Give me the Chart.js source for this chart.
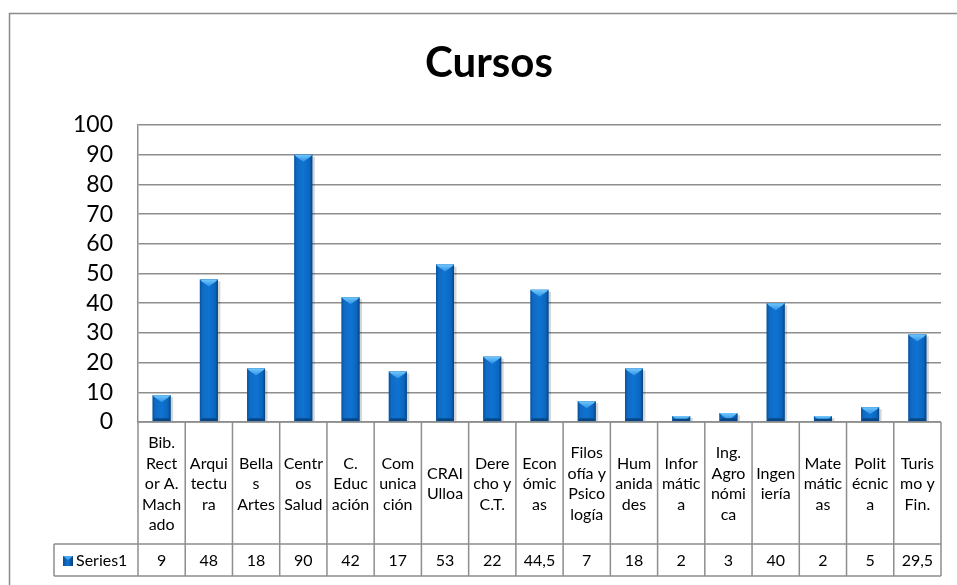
<!DOCTYPE html>
<html>
<head>
<meta charset="utf-8">
<title>Cursos</title>
<script src="https://cdn.jsdelivr.net/npm/chart.js@4.4.1/dist/chart.umd.min.js"></script>
<style>
  html, body { margin: 0; padding: 0; background: #ffffff; }
  #wrap { width: 957px; height: 585px; position: relative; }
</style>
</head>
<body>
<div id="wrap"><canvas id="cursosChart" width="957" height="585"></canvas></div>
<script>
// Category labels, already wrapped the way the data table shows them.
const categoryLines = [
  ["Bib.", "Rect", "or A.", "Mach", "ado"],
  ["Arqui", "tectu", "ra"],
  ["Bella", "s", "Artes"],
  ["Centr", "os", "Salud"],
  ["C.", "Educ", "ación"],
  ["Com", "unica", "ción"],
  ["CRAI", "Ulloa"],
  ["Dere", "cho y", "C.T."],
  ["Econ", "ómic", "as"],
  ["Filos", "ofía y", "Psico", "logía"],
  ["Hum", "anida", "des"],
  ["Infor", "mátic", "a"],
  ["Ing.", "Agro", "nómi", "ca"],
  ["Ingen", "iería"],
  ["Mate", "mátic", "as"],
  ["Polit", "écnic", "a"],
  ["Turis", "mo y", "Fin."]
];

const seriesName = "Series1";
const seriesValues = [9, 48, 18, 90, 42, 17, 53, 22, 44.5, 7, 18, 2, 3, 40, 2, 5, 29.5];

const yTickMin = 0;
const yTickMax = 100;
const yTickStep = 10;

const chartTitle = "Cursos";

// Look & feel
const FONT = "Lato, 'Open Sans', 'DejaVu Sans', sans-serif";
const GRID_COLOR = "#8e8e8e";
const LABEL_ROW_HEIGHT = 122;
const VALUE_ROW_HEIGHT = 32;
const LEGEND_CELL_LEFT = 54;

// Helper: Excel-style decimal comma.
function formatValue(v) {
  return String(v).replace(".", ",");
}

// Outer frame of the chart object (only the left and top edges are visible).
const framePlugin = {
  id: "frame",
  beforeDraw(chart) {
    const ctx = chart.ctx;
    ctx.save();
    ctx.fillStyle = "#ffffff";
    ctx.fillRect(0, 0, chart.width, chart.height);
    ctx.strokeStyle = "#8a8a8a";
    ctx.lineWidth = 1.5;
    ctx.strokeRect(9.5, 13.5, 1200, 1200);
    ctx.restore();
  }
};

// Gives the flat bars the bevelled Excel look.
const bevelPlugin = {
  id: "bevel",
  afterDatasetsDraw(chart) {
    const ctx = chart.ctx;
    const meta = chart.getDatasetMeta(0);
    meta.data.forEach((bar) => {
      const { x, y, base, width } = bar.getProps(["x", "y", "base", "width"], true);
      const left = x - width / 2;
      const right = x + width / 2;
      const h = base - y;
      if (h <= 0) return;
      ctx.save();

      // soft shadow on the right
      ctx.fillStyle = "rgba(0,0,0,0.16)";
      ctx.fillRect(right, y + 2, 2.5, h - 2);

      // body
      const g = ctx.createLinearGradient(left, 0, right, 0);
      g.addColorStop(0, "#0a519c");
      g.addColorStop(0.15, "#106bc4");
      g.addColorStop(0.5, "#0f73d2");
      g.addColorStop(0.85, "#0b66bd");
      g.addColorStop(1, "#07417f");
      ctx.fillStyle = g;
      ctx.fillRect(left, y, width, h);

      // top bevel (light triangle)
      const t = Math.min(7, h);
      const tg = ctx.createLinearGradient(0, y, 0, y + t);
      tg.addColorStop(0, "#72c8fb");
      tg.addColorStop(1, "#2d90e6");
      ctx.fillStyle = tg;
      ctx.beginPath();
      ctx.moveTo(left, y);
      ctx.lineTo(right, y);
      ctx.lineTo(right - 2, y + 2);
      ctx.lineTo(x, y + t);
      ctx.lineTo(left + 2, y + 2);
      ctx.closePath();
      ctx.fill();

      // bottom bevel (dark band)
      const b = Math.min(3, h / 2);
      ctx.fillStyle = "#094784";
      ctx.beginPath();
      ctx.moveTo(left, base);
      ctx.lineTo(right, base);
      ctx.lineTo(right - 2, base - b);
      ctx.lineTo(left + 2, base - b);
      ctx.closePath();
      ctx.fill();

      ctx.restore();
    });
  }
};

// Data table under the plot: category names, legend key and values.
const dataTablePlugin = {
  id: "dataTable",
  afterDraw(chart) {
    const ctx = chart.ctx;
    const area = chart.chartArea;
    const xScale = chart.scales.x;
    const step = xScale.getPixelForValue(1) - xScale.getPixelForValue(0);
    const top = area.bottom;
    const mid = top + LABEL_ROW_HEIGHT;
    const bottom = mid + VALUE_ROW_HEIGHT;

    ctx.save();
    ctx.strokeStyle = GRID_COLOR;
    ctx.lineWidth = 1.5;

    // horizontal rules
    ctx.beginPath();
    ctx.moveTo(area.left, top);
    ctx.lineTo(area.right, top);
    ctx.moveTo(LEGEND_CELL_LEFT, mid);
    ctx.lineTo(area.right, mid);
    ctx.moveTo(LEGEND_CELL_LEFT, bottom);
    ctx.lineTo(area.right, bottom);
    // legend cell left edge
    ctx.moveTo(LEGEND_CELL_LEFT, mid);
    ctx.lineTo(LEGEND_CELL_LEFT, bottom);
    // column separators
    for (let i = 0; i <= categoryLines.length; i++) {
      const xs = xScale.getPixelForValue(i) - step / 2;
      ctx.moveTo(xs, top);
      ctx.lineTo(xs, bottom);
    }
    ctx.stroke();

    ctx.fillStyle = "#000000";
    ctx.textAlign = "center";
    ctx.textBaseline = "middle";
    ctx.font = "16px " + FONT;

    // category names, vertically centred in their cells
    const lineH = 20.5;
    const labelMid = top + LABEL_ROW_HEIGHT / 2 + 1;
    categoryLines.forEach((lines, i) => {
      const cx = xScale.getPixelForValue(i);
      const startY = labelMid - ((lines.length - 1) * lineH) / 2;
      lines.forEach((line, k) => {
        ctx.fillText(line, cx, startY + k * lineH);
      });
    });

    // values row
    const valueY = mid + VALUE_ROW_HEIGHT / 2 + 1;
    seriesValues.forEach((v, i) => {
      ctx.fillText(formatValue(v), xScale.getPixelForValue(i), valueY);
    });

    // legend key + series name
    const kg = ctx.createLinearGradient(63, 0, 73, 0);
    kg.addColorStop(0, "#0a4f98");
    kg.addColorStop(0.5, "#1274d0");
    kg.addColorStop(1, "#073f7c");
    ctx.fillStyle = kg;
    ctx.fillRect(63, valueY - 5, 10, 10);
    ctx.fillStyle = "#4aa8f0";
    ctx.beginPath();
    ctx.moveTo(63, valueY - 5);
    ctx.lineTo(73, valueY - 5);
    ctx.lineTo(68, valueY - 1);
    ctx.closePath();
    ctx.fill();

    ctx.fillStyle = "#000000";
    ctx.textAlign = "left";
    ctx.fillText(seriesName, 76, valueY);

    ctx.restore();
  }
};

const ctx = document.getElementById("cursosChart");

new Chart(ctx, {
  type: "bar",
  data: {
    labels: categoryLines,
    datasets: [
      {
        label: seriesName,
        data: seriesValues,
        backgroundColor: "#0e6ac4",
        borderWidth: 0,
        categoryPercentage: 1,
        barPercentage: 0.38
      }
    ]
  },
  options: {
    responsive: false,
    animation: false,
    devicePixelRatio: 1,
    layout: {
      padding: { left: 37, right: 16, top: 0, bottom: 163 }
    },
    plugins: {
      legend: { display: false },
      tooltip: { enabled: false },
      title: {
        display: true,
        text: chartTitle,
        color: "#000000",
        font: { family: FONT, size: 42, weight: "bold", lineHeight: 1.2 },
        padding: { top: 38, bottom: 36.6 }
      }
    },
    scales: {
      x: {
        display: false
      },
      y: {
        min: yTickMin,
        max: yTickMax,
        afterFit(scale) {
          scale.width = 101;
        },
        ticks: {
          stepSize: yTickStep,
          autoSkip: false,
          color: "#000000",
          padding: 25,
          font: { family: FONT, size: 23 }
        },
        grid: {
          color: GRID_COLOR,
          lineWidth: 1.5,
          drawTicks: false
        },
        border: {
          display: true,
          color: GRID_COLOR,
          width: 1.5
        }
      }
    }
  },
  plugins: [framePlugin, bevelPlugin, dataTablePlugin]
});
</script>
</body>
</html>
